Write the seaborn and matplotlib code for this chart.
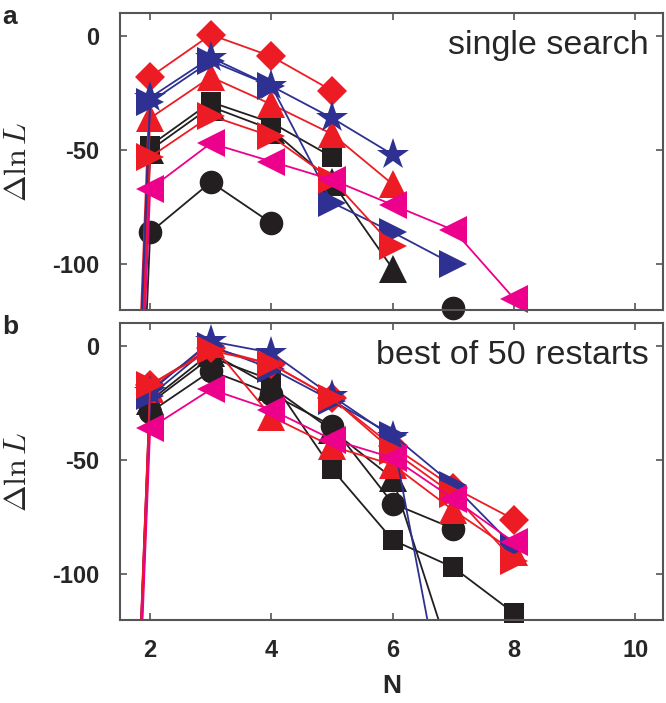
import numpy as np
import pandas as pd
import matplotlib
matplotlib.use("Agg")
import matplotlib.pyplot as plt
import seaborn as sns

sns.set_style("ticks")
plt.rcParams['font.family'] = ['Liberation Sans', 'DejaVu Sans']
plt.rcParams['mathtext.fontset'] = 'cm'

# number of components N (N=1 values lie far below the plotted range)
N = [1, 2, 3, 4, 5, 6, 7, 8]
nan = np.nan

# panel a: single search
a_circle = [-700, -86, -64, -82, nan, nan, -119, nan]
a_square = [-700, -48, -29, -38, -53, nan, nan, nan]
a_tri_k = [-700, -50, -31, -41, -64, -102, nan, nan]
a_diamond = [-700, -18, 0.5, -9, -24, nan, nan, nan]
a_tri_r = [-700, -36, -18, -30, -43, -65, nan, nan]
a_star = [-700, -27, -9.5, -22, -36, -52, nan, nan]
a_right_b = [-700, -29, -11, -22, -73, -86, -100, nan]
a_right_r = [-700, -53, -35, -44, -63, -92, nan, nan]
a_left_m = [-700, -67, -47, -55, -63, -74, -85, -115]

# panel b: best of 50 restarts
b_circle = [-700, -29, -11, -21, -35, -69, -80, nan]
b_square = [-700, -25, -5, -15, -54, -85, -97, -117]
b_tri_k = [-700, -24, -3, -18, -37, -58, -140, nan]
b_diamond = [-700, -17, -1, -8, -23, -44, -62, -76]
b_tri_r = [-700, -19, 1, -31, -44, -52, -72, -90]
b_star = [-700, -20, 2, -3, -22, -40, -180, nan]
b_right_b = [-700, -22, 0, -10, -24, -39, -61, -88]
b_right_r = [-700, -17, -2, -8, -23, -46, -65, -94]
b_left_m = [-700, -36, -19, -28, -41, -49, -67, -86]

K = '#231f20'
R = '#ed1c24'
B = '#2e3192'
M = '#ec008c'

# (colour, marker, size)
styles = [
    (K, 'o', 17),
    (K, 's', 14),
    (K, '^', 20),
    (R, 'D', 15),
    (R, '^', 20),
    (B, '*', 24),
    (B, '>', 20),
    (R, '>', 20),
    (M, '<', 20),
]

panels = [
    ([a_circle, a_square, a_tri_k, a_diamond, a_tri_r, a_star, a_right_b, a_right_r, a_left_m],
     'single search', 'a'),
    ([b_circle, b_square, b_tri_k, b_diamond, b_tri_r, b_star, b_right_b, b_right_r, b_left_m],
     'best of 50 restarts', 'b'),
]

fig = plt.figure(figsize=(6.66, 7.03), dpi=100)
ax_a = fig.add_axes([0.180, 0.559, 0.815, 0.4225])
ax_b = fig.add_axes([0.180, 0.118, 0.815, 0.4225])

for ax, (series, title, tag) in zip([ax_a, ax_b], panels):
    for vals, (col, mk, ms) in zip(series, styles):
        df = pd.DataFrame({'N': N, 'v': vals})
        # split into contiguous segments so gaps stay gaps
        df['seg'] = df['v'].isna().cumsum()
        df = df.dropna()
        for _, seg in df.groupby('seg'):
            if len(seg) > 1:
                sns.lineplot(data=seg, x='N', y='v', ax=ax, color=col, lw=1.3,
                             estimator=None, sort=False)
        vis = df[df['v'] > -121]
        sns.lineplot(data=vis, x='N', y='v', ax=ax, color=col, marker=mk,
                     markersize=ms, markeredgewidth=0, linestyle='',
                     estimator=None, sort=False, clip_on=False)

    ax.set_xlim(1.5, 10.45)
    ax.set_ylim(-120, 10)
    ax.set_xticks([2, 4, 6, 8, 10])
    ax.set_yticks([0, -50, -100])
    ax.set_yticklabels(['0', '-50', '-100'])
    ax.tick_params(direction='in', length=5, width=1.2, color='#555555',
                   top=True, right=True, labelsize=17)
    ax.tick_params(axis='y', pad=15)
    ax.tick_params(axis='x', pad=14)
    for lab in ax.get_xticklabels() + ax.get_yticklabels():
        lab.set_fontweight('bold')
    for sp in ax.spines.values():
        sp.set_color('#555555')
        sp.set_linewidth(1.5)
    ax.set_xlabel('')
    ax.set_ylabel('')
    ax.text(0.975, 0.89, title, transform=ax.transAxes, ha='right', va='center',
            fontsize=24.5)
    pos = ax.get_position()
    fig.text(18 / 666, pos.y0 + pos.height * 0.5, r'$\Delta\ln L$', rotation=90,
             ha='center', va='center', fontsize=23)
    fig.text(2 / 666, pos.y1 + 0.012, tag, ha='left', va='top', fontsize=19,
             fontweight='bold')

ax_a.tick_params(labelbottom=False)
ax_b.set_xlabel('N', fontsize=19, fontweight='bold', labelpad=8)

fig.savefig('out.png', dpi=100)
